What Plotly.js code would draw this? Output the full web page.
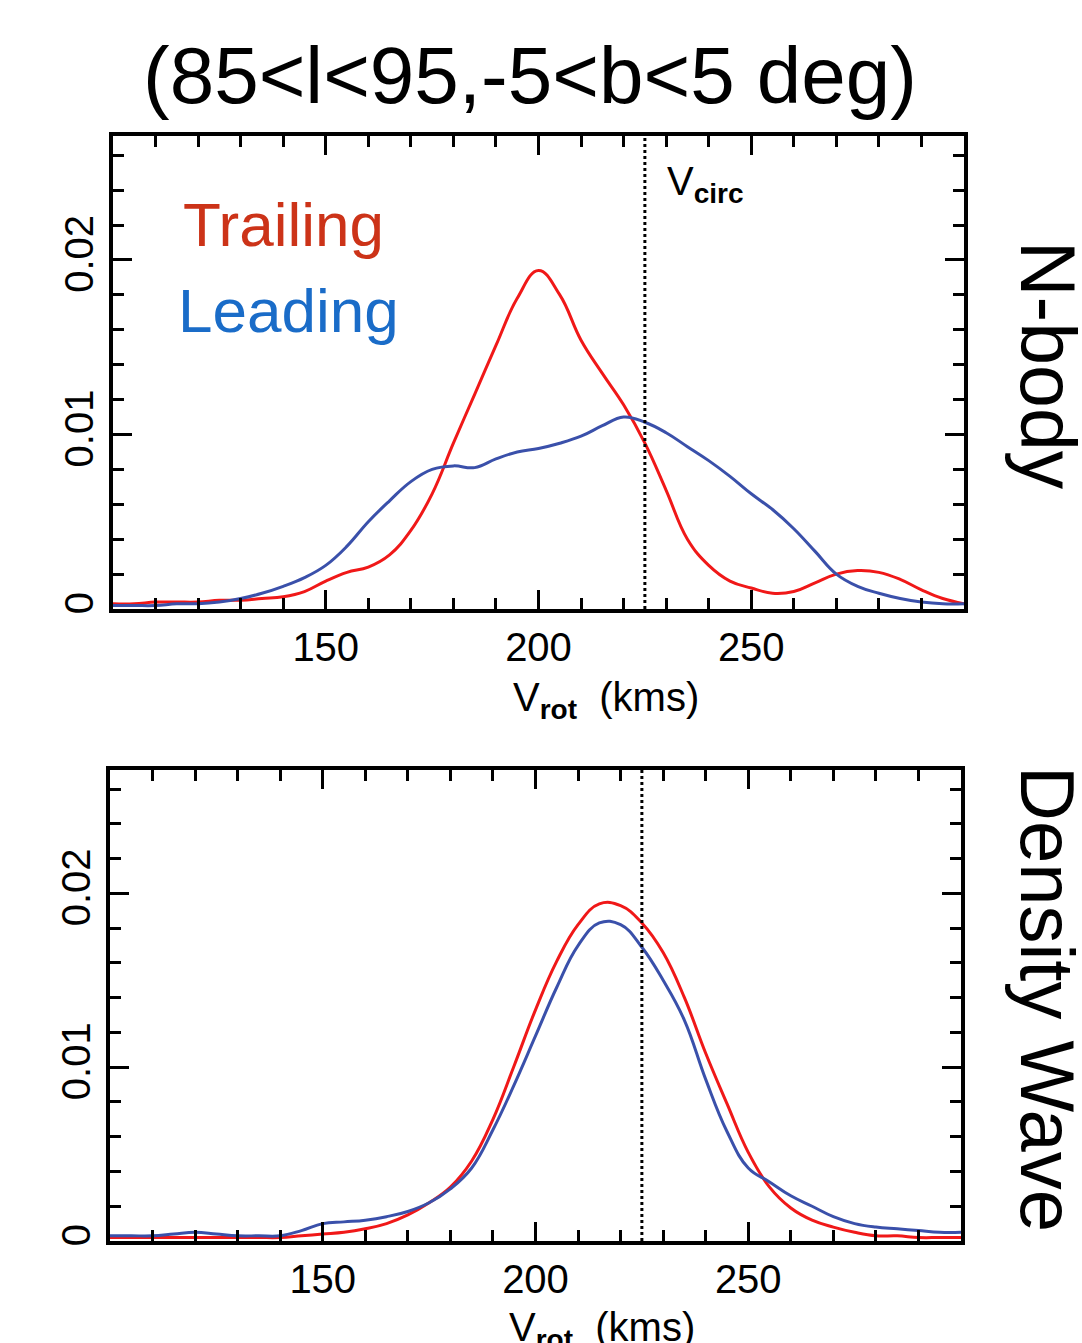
<!DOCTYPE html>
<html><head><meta charset="utf-8">
<script src="https://cdn.plot.ly/plotly-3.0.1.min.js"></script>
<style>html,body{margin:0;padding:0;background:#fff}#chart{width:1082px;height:1343px}</style>
</head><body><div id="chart"></div>
<script>
// ---- data ----
const vrotTop = [100,105,110,115,120,125,130,135,140,145,150,155,160,165,170,175,180,185,190,195,200,205,210,215,220,225,230,235,240,245,250,255,260,265,270,275,280,285,290,295,300];
const trailingNbody = [0.0003,0.0003,0.0004,0.0004,0.0004,0.0005,0.0005,0.0006,0.0007,0.0010,0.0016,0.0021,0.0024,0.0031,0.0045,0.0066,0.0095,0.0123,0.0151,0.0178,0.0194,0.0180,0.0154,0.0135,0.0117,0.0095,0.0068,0.0040,0.0025,0.0016,0.0012,0.0009,0.0010,0.0015,0.0020,0.0022,0.0021,0.0017,0.0011,0.0006,0.0003];
const leadingNbody = [0.0002,0.0002,0.0002,0.0003,0.0003,0.0004,0.0006,0.0009,0.0013,0.0018,0.0025,0.0036,0.0050,0.0062,0.0073,0.0080,0.0082,0.0081,0.0086,0.0090,0.0092,0.0095,0.0099,0.0105,0.0110,0.0107,0.0101,0.0093,0.0085,0.0076,0.0066,0.0057,0.0046,0.0033,0.0020,0.0013,0.0009,0.0006,0.0004,0.0003,0.0003];

const vrotBottom = [100,105,110,115,120,125,130,135,140,145,150,155,160,165,170,175,180,185,190,195,200,205,210,215,220,225,230,235,240,245,250,255,260,265,270,275,280,285,290,295,300];
const trailingDW = [0.0002,0.0002,0.0002,0.0002,0.0002,0.0002,0.0002,0.0002,0.0002,0.0003,0.0004,0.0005,0.0007,0.0010,0.0015,0.0022,0.0031,0.0046,0.0070,0.0101,0.0133,0.0161,0.0182,0.0194,0.0193,0.0183,0.0166,0.0140,0.0108,0.0079,0.0051,0.0031,0.0019,0.0012,0.0008,0.0005,0.0003,0.0003,0.0002,0.0002,0.0002];
const leadingDW = [0.0003,0.0003,0.0003,0.0004,0.0005,0.0004,0.0003,0.0003,0.0003,0.0006,0.0010,0.0011,0.0012,0.0014,0.0017,0.0022,0.0030,0.0042,0.0064,0.0090,0.0118,0.0146,0.0170,0.0183,0.0182,0.0169,0.0150,0.0127,0.0093,0.0063,0.0042,0.0034,0.0026,0.0020,0.0014,0.0010,0.0008,0.0007,0.0006,0.0005,0.0005];

const vCirc = 225;
const xTickVals = [150,200,250];
const yTickVals = [0,0.01,0.02];
const yTickText = ['0','0.01','0.02'];

// ---- styling ----
const FONT = 'Liberation Sans, Arial, Helvetica, sans-serif';
const RED = '#f01818';
const BLUE = '#3a50aa';
const W = 1082, H = 1343;

function xAxis(domain, anchor){
  return {domain: domain, anchor: anchor, range:[100,300], tickmode:'array', tickvals:xTickVals,
    ticks:'inside', ticklen:19, tickwidth:3, tickcolor:'#000',
    showline:true, linewidth:4, linecolor:'#000', mirror:'ticks',
    minor:{tickmode:'linear', tick0:100, dtick:10, ticks:'inside', ticklen:11, tickwidth:3, tickcolor:'#000'},
    tickfont:{family:FONT, size:40, color:'#000'}, ticklabelstandoff:0,
    showgrid:false, zeroline:false, fixedrange:true};
}
function yAxis(domain, anchor){
  return {domain: domain, anchor: anchor, range:[0,0.0271], tickmode:'array', tickvals:yTickVals, ticktext:yTickText,
    tickangle:-90,
    ticks:'inside', ticklen:19, tickwidth:3, tickcolor:'#000',
    showline:true, linewidth:4, linecolor:'#000', mirror:'ticks',
    minor:{tickmode:'linear', tick0:0, dtick:0.002, ticks:'inside', ticklen:11, tickwidth:3, tickcolor:'#000'},
    tickfont:{family:FONT, size:40, color:'#000'}, ticklabelstandoff:0,
    showgrid:false, zeroline:false, fixedrange:true};
}

const traces = [
  {x:vrotTop, y:trailingNbody, xaxis:'x', yaxis:'y', type:'scatter', mode:'lines', name:'Trailing',
   line:{color:RED, width:3, shape:'spline', smoothing:1.2}},
  {x:vrotTop, y:leadingNbody, xaxis:'x', yaxis:'y', type:'scatter', mode:'lines', name:'Leading',
   line:{color:BLUE, width:3, shape:'spline', smoothing:1.2}},
  {x:vrotBottom, y:trailingDW, xaxis:'x2', yaxis:'y2', type:'scatter', mode:'lines', name:'Trailing',
   line:{color:RED, width:3, shape:'spline', smoothing:1.2}},
  {x:vrotBottom, y:leadingDW, xaxis:'x2', yaxis:'y2', type:'scatter', mode:'lines', name:'Leading',
   line:{color:BLUE, width:3, shape:'spline', smoothing:1.2}}
];

const px = v => v / W;
const py = v => 1 - v / H;

const layout = {
  width:W, height:H, margin:{l:0,r:0,t:0,b:0}, showlegend:false,
  paper_bgcolor:'#fff', plot_bgcolor:'#fff',
  font:{family:FONT, color:'#000'},
  title:{text:'(85&lt;l&lt;95,-5&lt;b&lt;5 deg)', x:px(530), xanchor:'center', y:py(75), yanchor:'middle',
         font:{family:FONT, size:80, color:'#000'}},
  xaxis: xAxis([px(113), px(964)], 'y'),
  yaxis: yAxis([py(609), py(136)], 'x'),
  xaxis2: xAxis([px(110), px(961)], 'y2'),
  yaxis2: yAxis([py(1241), py(770)], 'x2'),
  shapes:[
    {type:'line', xref:'x', yref:'y domain', x0:vCirc, x1:vCirc, y0:0, y1:1, line:{color:'#000', width:3, dash:'dot'}},
    {type:'line', xref:'x2', yref:'y2 domain', x0:vCirc, x1:vCirc, y0:0, y1:1, line:{color:'#000', width:3, dash:'dot'}}
  ],
  annotations:[
    {text:'Trailing', xref:'paper', yref:'paper', x:px(181), y:py(224), xanchor:'left', yanchor:'middle', showarrow:false,
     font:{family:FONT, size:62, color:'#cc3318'}},
    {text:'Leading', xref:'paper', yref:'paper', x:px(176), y:py(311), xanchor:'left', yanchor:'middle', showarrow:false,
     font:{family:FONT, size:62, color:'#1a6cc8'}},
    {text:'V<sub><b>circ</b></sub>', xref:'paper', yref:'paper', x:px(665), y:py(184), xanchor:'left', yanchor:'middle', showarrow:false,
     font:{family:FONT, size:40, color:'#000'}},
    {text:'V<sub><b>rot</b></sub>&nbsp;&nbsp;(kms)', xref:'paper', yref:'paper', x:px(511), y:py(700), xanchor:'left', yanchor:'middle', showarrow:false,
     font:{family:FONT, size:40, color:'#000'}},
    {text:'V<sub><b>rot</b></sub>&nbsp;&nbsp;(kms)', xref:'paper', yref:'paper', x:px(507), y:py(1330), xanchor:'left', yanchor:'middle', showarrow:false,
     font:{family:FONT, size:40, color:'#000'}},
    {text:'N-body', xref:'paper', yref:'paper', x:px(1048), y:py(365), xanchor:'center', yanchor:'middle', textangle:90, showarrow:false,
     font:{family:FONT, size:77, color:'#000'}},
    {text:'Density Wave', xref:'paper', yref:'paper', x:px(1048), y:py(999), xanchor:'center', yanchor:'middle', textangle:90, showarrow:false,
     font:{family:FONT, size:76, color:'#000'}}
  ]
};

Plotly.newPlot('chart', traces, layout, {staticPlot:true, displayModeBar:false});
</script>
</body></html>
